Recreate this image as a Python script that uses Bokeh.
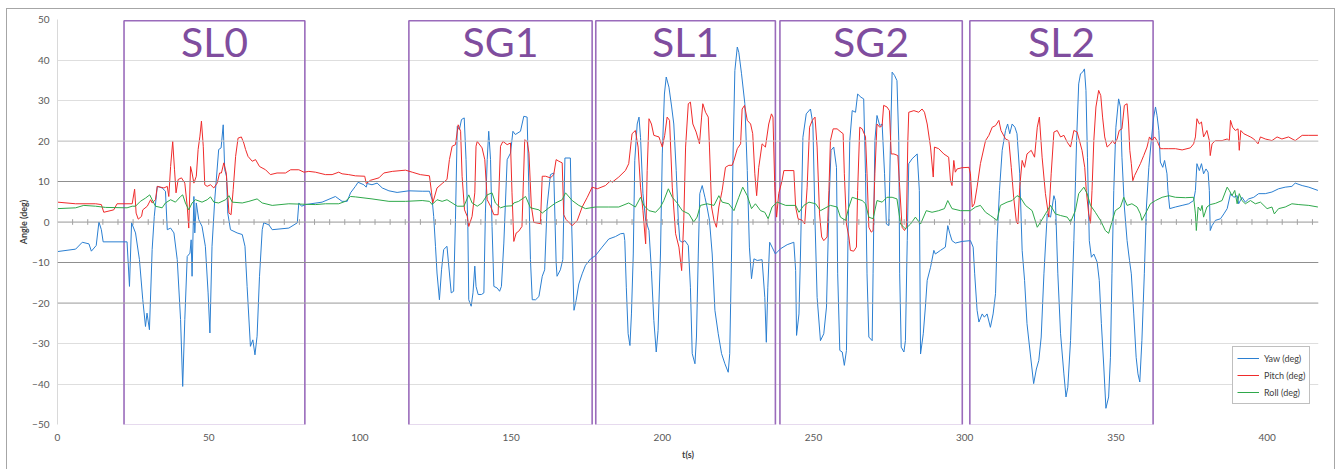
from bokeh.plotting import figure
from bokeh.models import (Range1d, FixedTicker, Span, Legend, LegendItem, ColumnDataSource)
from bokeh.core.properties import value
from bokeh.embed import file_html
from bokeh.resources import INLINE
import numpy as np

# ---------------- data ----------------
YAW = [(0,-7.3),(6,-6.7),(8.2,-5.0),(10.4,-5.4),(11.2,-7.2),(12.8,-5.8),(13.7,0),(14.5,-1.9),(15.1,-4.9),(23.0,-4.9),
(23.8,-15.9),(24.5,-0.2),(25.8,-2.7),(27.1,-9.3),(28.2,-19.2),(29.1,-25.8),(29.6,-22.5),(30.4,-26.6),(31.3,-6.8),(32,1.4),
(33,8.8),(34.6,8.4),(35.7,7.6),(36.3,-1.9),(37.4,-1.5),(38.5,-2.7),(39.6,-9.3),(40.7,-24.1),(41.4,-40.6),(42.1,-24.1),
(42.9,-8.5),(43.8,-7.7),(44.2,-4.4),(44.5,-13.4),(45.1,6.3),(45.4,-2.7),(45.9,4.7),(46.7,0.6),(47.8,-1.1),(48.9,-6.0),
(49.8,-17.5),(50.4,-27.4),(51.1,-6.0),(52.0,5.5),(53.3,17.9),(54.1,18.3),(54.8,24.0),(55.3,12.9),(55.9,11.3),(56.3,2.2),
(57.2,-1.9),(59.4,-2.7),(61.1,-3.1),(62,-6.0),(62.7,-15.9),(63.8,-30.7),(64.6,-29.1),(65.3,-32.8),(66,-28.2),(66.8,-13.4),
(67.7,-1.9),(68.2,-0.2),(69.9,-0.7),(71,-1.9),(76.5,-1.5),(79.3,-0.2),(79.8,4.7),(80.7,3.9),(82,4.3),(87.5,4.9),
(91.9,6.3),(94.1,5.1),(95.8,5.1),(96.9,7.2),(98.5,8.8),(99.4,9.8),(101.3,9.2),(102.1,8.6),(102.4,9.5),(104,9.2),
(105.7,9.6),(107.4,8.4),(109.6,7.7),(112.3,7.3),(116.2,7.7),(120.6,7.6),(123,7.6),(123.9,5.5),(124.4,1.4),(125,-6.0),
(125.5,-12.6),(126.3,-19.2),(127,-11.8),(127.7,-6.8),(128.8,-6.0),(129.6,-12.6),(130.2,-17.5),(131,-17.1),(131.6,0.6),(132.2,23.6),
(132.9,22.8),(133.6,25.3),(134.5,25.7),(135.1,15.4),(135.7,-1.1),(136,-19.2),(136.8,-20.8),(137.4,-17.5),(138,-10.9),(138.4,-15.9),
(139.1,-17.9),(140.2,-17.9),(141,-17.5),(141.5,2.2),(142.1,15.4),(142.6,22.4),(143.2,15.4),(143.7,-1.1),(144.3,-15.9),(145.4,-16.3),
(146.2,-17.1),(146.8,-15.9),(147.6,-5.2),(148.7,15.4),(149.8,17.0),(150.6,22.4),(151.4,21.6),(153.1,22.4),(154.2,26.1),(155.3,25.9),
(155.9,7.2),(156.4,-9.3),(157,-19.2),(158.1,-19.2),(159.2,-18.4),(160.3,-13.4),(161.1,-11.8),(161.9,3.9),(163,11.7),(164.1,12.1),
(164.9,-10.1),(165.2,-13.4),(166.3,-11.8),(167.1,-9.3),(167.8,15.8),(169.6,15.8),(170,0.4),(170.8,-21.8),(171.5,-19.4),(172.4,-15.3),
(173.5,-12.8),(174.6,-10.7),(176.3,-9.1),(177.9,-8.3),(180.1,-6.2),(182.3,-4.2),(184.5,-3.6),(186.2,-2.9),(187.3,-2.8),(187.6,-4.6),
(188.1,-16.1),(188.7,-27.6),(189.3,-30.5),(189.8,-22.7),(190.4,-7.9),(190.9,15.2),(191.7,24.2),(192.3,25.9),(192.8,20.9),(193.6,7.0),
(194.5,0.4),(195.6,-2.1),(196.4,-12.0),(197.2,-24.3),(198,-32.1),(198.6,-26.8),(199.4,-7.9),(200,16.8),(200.7,31.6),(201.3,35.8),
(202.2,33.3),(203.1,28.4),(203.8,24.2),(204.6,12.7),(205.3,0.4),(205.8,-4.6),(206.6,-5.0),(207.5,-4.6),(208.6,-5.8),(209.3,-16.1),
(209.9,-32.5),(210.8,-35.0),(211.3,-28.4),(211.9,-7.9),(212.4,7.0),(213.2,9.0),(214.1,6.1),(214.8,3.7),(215.6,0.4),(216.5,-7.9),
(217.4,-21.8),(218.5,-27.6),(219.6,-32.5),(220.7,-35.0),(221.8,-37.1),(222.3,-32.5),(222.9,-7.9),(223.4,16.8),(224,37.4),(224.8,43.2),
(225.3,41.9),(226.2,36.6),(227.3,29.2),(228.1,12.7),(228.8,-6.2),(229.5,-14.0),(230.3,-9.1),(231.4,-9.5),(233,-9.3),(233.9,-18.6),
(234.4,-29.7),(234.9,-16.1),(235.5,-5.0),(236.3,-6.2),(237.4,-7.9),(239.1,-6.6),(241.3,-5.6),(243.5,-5.0),(244.1,-12.0),(244.4,-28.0),
(245.2,-22.7),(245.7,-7.9),(246.5,20.9),(247.6,26.7),(249,27.9),(249.8,24.2),(250.5,0.4),(251.2,-18.6),(252.3,-29.3),(253.4,-27.6),
(254.3,-21.0),(255.1,3.7),(255.8,17.7),(256.7,18.5),(257.6,13.5),(258,-12.8),(258.7,-31.7),(259.5,-32.1),(260.2,-35.4),(260.9,-31.7),
(261.4,-4.6),(262,20.1),(262.8,27.5),(263.9,27.1),(264.6,31.6),(265.7,30.8),(266.6,30.4),(267.2,11.9),(267.7,-12.8),(268.3,-28.4),
(269.4,-29.3),(269.7,-12.8),(270.3,20.1),(271,26.3),(271.9,23.8),(272.7,24.2),(273.5,11.9),(274.1,-0.5),(274.9,-0.9),(275.4,17.7),
(276,37.0),(276.8,36.2),(277.6,34.9),(278.2,20.1),(278.5,-12.8),(279,-30.9),(279.9,-32.1),(280.4,-29.3),(281,-4.6),(281.5,14.4),
(282.6,15.6),(284.3,16.8),(285,7.8),(285.4,-32.6),(286.3,-27.6),(287,-21.0),(287.6,-14.4),(288.7,-11.2),(289.8,-7.0),(290.3,-7.9),
(292,-7.0),(293.6,-6.2),(294.4,-0.9),(295.1,-2.9),(295.8,-4.6),(296.9,-5.2),(299.1,-4.8),(301.9,-4.6),(302.8,-6.2),(303.3,-12.8),
(304.1,-21.8),(304.7,-24.7),(305.8,-22.7),(306.5,-23.5),(307.4,-22.7),(308.5,-26.0),(309.4,-22.7),(310.2,-17.7),(310.7,-4.6),(311.5,7.8),
(312.4,17.7),(313.5,22.6),(314.2,24.2),(314.9,21.8),(315.7,24.2),(316.6,23.4),(317.3,21.8),(318.2,11.9),(319,-7.0),(319.8,-14.4),
(320.6,-25.1),(321.7,-32.6),(322.8,-39.9),(323.7,-36.3),(324.5,-34.2),(325.3,-28.4),(326.2,-12.8),(327.3,2.0),(328.4,1.2),(329.5,6.5),
(330,5.3),(330.8,-12.8),(331.7,-27.6),(332.8,-37.5),(333.5,-43.2),(334.1,-40.8),(335,-29.3),(336.1,-4.6),(337,20.1),(337.7,34.1),
(338.3,36.6),(339,37.0),(339.6,37.8),(340.1,32.5),(340.6,16.0),(341.2,-4.6),(341.9,-8.7),(342.7,-7.9),(343.8,-9.9),(344.5,-14.4),
(345.2,-25.1),(346,-35.8),(346.7,-46.0),(347.6,-43.2),(348.2,-33.4),(348.7,-12.8),(349.3,7.8),(350,23.4),(350.9,30.4),(351.5,28.4),
(352,16.0),(352.8,3.7),(353.7,-4.6),(354.5,-9.5),(355.1,-12.8),(355.9,-22.7),(356.7,-33.4),(357.3,-37.5),(357.9,-39.5),(358.6,-29.3),
(359.4,-12.8),(360.1,3.7),(360.9,13.5),(361.7,20.1),(362.5,25.9),(363.1,28.4),(363.6,26.3),(364.2,22.6),(364.7,14.8),(365.5,13.5),
(366.1,15.2),(366.9,11.9),(367.2,7.8),(367.8,3.3),(369.7,3.7),(371.9,4.1),(374.1,4.5),(375.7,5.3),(376.3,7.8),(376.8,14.4),
(377.6,12.7),(378.3,14.4),(379,11.9),(379.8,13.1),(380.5,12.3),(380.9,7.8),(381.2,-2.1),(381.8,-0.9),(382.9,0.4),(384.6,0.8),
(385.7,2.0),(386.8,3.3),(387.9,7.0),(389,6.1),(390.1,6.5),(390.6,4.5),(391.7,6.1),(392.8,4.9),(393.9,5.7),(395.6,6.1),
(397.2,7.0),(399.4,7.0),(401.6,7.4),(403.8,8.2),(406,8.6),(408.2,8.8),(409.3,9.6),(411.6,9.0),(413.8,8.6),(416.8,7.8)]

PITCH = [(0,4.9),(6,4.5),(12.6,4.5),(14.5,4.3),(15.3,2.4),(18.6,3.0),(19.7,4.5),(24.7,4.5),(25.5,8.1),(26,2.2),
(26.7,0.7),(27.8,1.4),(28.2,3.0),(29.7,3.9),(30.8,5.5),(31.3,4.7),(32.4,5.5),(33,8.8),(35.2,8.4),(36.3,8.8),
(36.8,6.3),(37.4,13.7),(38.1,19.9),(38.7,12.9),(39.2,7.2),(39.9,10.5),(41,10.9),(42.1,9.6),(42.9,3.9),(43.4,-1.5),
(44,13.7),(44.5,12.1),(45.1,9.6),(45.9,11.3),(46.5,17.9),(47.1,21.2),(47.6,24.9),(48.2,18.7),(48.7,9.2),(49.5,8.8),
(50.6,9.2),(51.7,8.4),(52.8,9.6),(53.6,12.1),(54.2,12.1),(55,14.6),(55.8,12.1),(56.7,2.2),(57.4,1.8),(58.1,8.0),
(58.9,16.2),(59.7,20.7),(60.8,21.0),(61.6,19.5),(62.2,17.9),(63,16.2),(64.4,15.0),(65.5,15.4),(66.8,13.7),(68.8,12.9),
(70.4,11.7),(72.6,12.1),(75.4,12.1),(77.1,12.9),(79.8,12.9),(81.5,12.3),(83.1,12.5),(85.3,12.3),(88.6,11.7),(90.8,11.7),
(93,12.3),(94.1,11.9),(96.3,11.7),(98.5,11.4),(101.6,11.3),(102.1,9.5),(103.5,10.3),(106.3,10.9),(107.9,12.1),(110.7,12.5),
(115.1,12.8),(117.3,12.3),(120,11.7),(123,11.4),(123.7,7.2),(124.1,4.7),(125.5,8.4),(127.2,9.5),(128.8,10.5),(129.6,15.4),
(130.5,18.7),(131.6,19.1),(132.5,24.0),(133.3,22.4),(133.8,11.3),(134.6,3.0),(135.5,1.4),(136,-1.1),(137.1,1.4),(138,7.2),
(138.4,18.7),(138.8,19.9),(140.4,18.3),(141.3,15.4),(142.1,5.5),(143.2,3.9),(144.3,1.8),(145.7,1.8),(146.5,18.7),(147.3,19.9),
(148.7,19.1),(149.8,19.5),(150.3,7.2),(150.9,-4.8),(151.7,-2.7),(152.5,-2.3),(153.6,-1.1),(154.5,20.3),(155.3,19.9),(155.9,17.0),
(156.7,3.9),(157.5,-0.1),(159.7,-0.4),(160.3,11.3),(161.4,11.3),(163,10.9),(164.1,11.7),(164.9,15.4),(165.8,15.0),(166.9,14.6),
(167.4,1.8),(168.2,0.6),(170.2,-0.9),(171.9,0.4),(173.5,3.7),(175.2,6.1),(176.8,8.6),(178.5,8.2),(181.2,9.0),(182.9,10.2),
(183.4,9.8),(185.6,11.1),(187.8,12.7),(188.9,14.4),(190,21.8),(191.1,22.6),(192,18.5),(192.8,8.6),(193.6,2.8),(194.5,-5.4),
(195,12.7),(195.6,25.5),(196.4,24.2),(197.2,21.4),(198.9,21.0),(200,18.5),(200.8,21.4),(201.6,25.9),(202.4,25.1),(203.3,8.6),
(204.4,-2.9),(205.5,-6.2),(206.4,-12.0),(207.1,0.4),(207.7,18.5),(208.6,29.2),(209.3,29.6),(210.1,24.2),(211.2,22.2),(212.3,19.3),
(213,25.9),(213.4,29.2),(214.3,27.1),(215.2,25.9),(215.6,18.5),(216.3,3.7),(217.1,0.4),(217.9,-1.3),(218.7,3.7),(219.8,7.8),
(220.9,13.5),(222,14.0),(223.1,14.0),(223.7,15.2),(224.8,18.1),(225.9,19.3),(226.4,27.9),(227.2,28.8),(228.1,25.1),(229.2,24.2),
(229.9,21.8),(230.6,11.9),(231.2,6.5),(231.9,13.5),(233,19.3),(234.1,18.5),(235.2,24.2),(236.1,26.7),(236.6,25.9),(237.2,8.6),
(237.8,1.2),(238.5,7.0),(239.6,10.2),(240.2,12.7),(241.9,12.7),(243.5,12.7),(244.1,3.7),(244.9,0.8),(246.3,0.4),(247.1,-0.5),
(247.9,8.6),(248.7,23.4),(249.6,25.1),(250.5,25.9),(251.2,18.5),(252,2.0),(252.7,-3.7),(253.4,-4.6),(254.5,-3.7),(255.1,7.8),
(255.6,20.1),(256.5,23.0),(257.8,23.0),(259.1,22.2),(259.8,21.8),(260.2,11.9),(260.9,-0.5),(261.7,-3.7),(262.2,-7.0),(263.3,-7.2),
(264.2,-6.2),(264.6,7.8),(265.3,23.4),(266.1,23.0),(267.2,21.0),(267.7,11.9),(268.3,-1.3),(269.1,-2.5),(269.7,-2.1),(270.3,11.9),
(271,24.2),(271.9,23.4),(272.7,23.8),(273.2,28.8),(274.3,28.4),(275.1,27.5),(275.7,16.8),(276.6,16.8),(277.9,16.4),(278.5,8.6),
(279.3,-1.3),(280.1,-2.1),(280.7,-1.3),(281.2,20.1),(281.5,27.1),(283.2,27.5),(284.8,27.1),(285.9,27.9),(286.7,27.1),(287.6,24.2),
(288.7,18.5),(289.6,11.1),(290,18.5),(291.4,18.1),(293.1,16.8),(294.7,16.0),(295.3,10.2),(295.8,9.0),(296.4,15.2),(296.9,12.3),
(297.5,13.1),(299.1,13.4),(301.4,13.5),(301.9,11.9),(302.5,3.7),(303.2,4.5),(304.1,8.6),(305.2,14.4),(306.9,20.1),(308,21.4),
(309.1,23.4),(310.2,23.8),(311.3,25.1),(312,22.6),(313.5,20.5),(314.6,20.1),(315.4,13.5),(316.2,6.1),(317.1,0),(317.6,-0.5),
(318.2,8.6),(319,15.2),(319.8,13.5),(320.6,16.8),(322,17.7),(323.1,16.0),(324,23.4),(324.7,25.9),(325.6,16.0),(326.7,7.0),
(327.8,1.2),(328.6,11.9),(329.5,22.2),(330.6,22.6),(331.7,21.0),(332.8,21.4),(333.9,19.7),(335,18.5),(336.1,22.6),(337.2,22.2),
(338.8,17.7),(339.7,13.5),(340.2,7.8),(341,2.0),(341.6,-0.3),(342.1,7.8),(342.7,20.1),(343.4,28.4),(344.3,32.5),(345,31.2),
(345.6,25.9),(346.3,21.0),(347.1,18.5),(348.2,19.3),(348.9,20.1),(349.6,19.3),(350.4,20.5),(351.1,22.6),(352,23.0),(352.8,28.8),
(353.7,29.2),(354.2,24.2),(354.6,17.7),(355.1,14.4),(355.6,10.2),(356.2,11.5),(357,12.7),(358.1,14.4),(359.2,16.4),(360.3,18.5),
(361.1,21.0),(361.9,20.1),(362.8,21.0),(363.6,20.1),(364.7,18.1),(365.8,18.1),(367.5,18.1),(369.7,18.1),(371.9,17.8),(374.6,18.3),
(375.7,19.3),(376.3,21.0),(376.8,25.5),(377.6,24.2),(378.3,24.7),(379,21.0),(380.1,22.6),(380.9,20.1),(381.2,16.4),(381.8,19.3),
(382.9,20.1),(385.1,20.1),(386.8,20.5),(387.5,20.1),(387.9,25.1),(388.6,23.4),(389.5,22.6),(390.4,23.0),(390.8,17.7),(391.3,22.6),
(392.3,21.8),(393.4,21.4),(394.5,21.0),(395.6,20.5),(397,19.3),(397.8,21.0),(399.4,20.5),(401.6,20.1),(403.3,21.0),(404.9,20.5),
(407.1,21.0),(409.3,20.1),(411.6,21.4),(413.8,21.4),(416.8,21.4)]

ROLL = [(0,3.3),(6,3.5),(8.7,4.1),(12.6,3.9),(15.9,3.6),(23,3.5),(24.7,3.9),(25.8,3.9),(27.4,5.1),(29.1,5.9),
(30.5,6.7),(31.3,5.5),(32.4,3.9),(34.6,3.5),(35.7,4.7),(37.4,5.5),(39,4.9),(40.7,6.3),(41.4,6.7),(42.3,4.7),
(43.4,3.0),(44.5,4.7),(45.6,5.5),(47.8,4.9),(49.5,5.5),(50.6,6.2),(51.7,4.9),(53.3,4.7),(55.6,5.5),(56.7,6.5),
(57.8,4.9),(61.1,4.7),(63.3,5.1),(66,5.7),(67.7,4.7),(71,4.1),(76.5,4.5),(80.9,4.4),(85.3,4.3),(88.6,4.5),
(93,4.5),(95.2,5.1),(96.9,6.3),(98.5,6.2),(104,5.7),(109.6,5.1),(115.1,5.1),(120.6,5.3),(123,5.1),(123.9,4.3),
(125.5,5.5),(127.2,5.1),(128.8,5.5),(130.5,4.7),(132.2,3.9),(134.4,3.9),(136,6.7),(137.1,4.7),(138.8,3.9),(140.4,4.7),
(142.1,6.7),(143.7,7.2),(144.8,4.7),(146.5,3.5),(148.1,3.9),(150.3,4.0),(150.9,4.7),(152.5,5.1),(154.8,6.3),(156.4,3.5),
(159.2,3.0),(160.3,2.2),(162.5,3.5),(164.7,4.7),(166.9,5.5),(168,7.2),(170.2,5.3),(172.4,4.1),(174.6,3.3),(177.9,3.7),
(182.3,3.7),(185.6,3.7),(188.9,4.7),(191.1,3.7),(192.8,6.1),(193.9,4.1),(195.6,2.8),(197.8,2.4),(199.4,3.7),(200.5,5.3),
(202,8.2),(203.3,6.1),(204.9,4.7),(206.6,2.8),(208.8,2.0),(210.4,0),(211.5,1.2),(212.6,4.1),(214.8,4.5),(217.1,4.1),
(218.7,6.5),(219.8,4.9),(222,4.5),(223.7,2.8),(225.3,6.1),(226.6,8.6),(228.1,6.5),(229.5,3.3),(230.8,4.5),(232.5,2.8),
(233.9,2.4),(235,0.8),(236.3,3.7),(238,4.9),(240.8,4.1),(244.1,4.1),(245.2,2.4),(246.8,4.1),(248.5,4.9),(250.7,4.5),
(252.3,2.8),(254.5,3.7),(255.6,4.1),(257.8,3.7),(258.9,1.2),(260.6,0.4),(261.7,3.7),(262.8,6.1),(264.4,5.7),(266.1,5.3),
(267.2,4.5),(268.3,1.2),(269.7,0.8),(271,5.3),(272.7,4.9),(274.3,6.1),(276,6.1),(277.6,5.7),(278.8,-0.5),(280.4,-1.7),
(282.1,-0.5),(283.7,1.2),(285.4,-0.5),(287.3,2.8),(289.2,2.4),(291.4,2.8),(293.3,3.3),(294.4,5.3),(295.8,3.3),(298.6,2.8),
(301.9,2.8),(303.6,3.7),(305.2,4.1),(306.9,2.4),(308.5,1.6),(310.7,0.4),(311.8,4.1),(314,4.9),(315.7,5.3),(317.3,6.5),
(318.4,6.1),(320.1,4.1),(322.3,2.8),(324,-1.3),(325.1,0),(326.7,2.0),(328.4,4.1),(330,2.0),(331.7,1.6),(333.9,1.2),
(335,0),(336.6,2.8),(337.7,7.0),(339.4,8.6),(340.5,7.0),(341.6,4.1),(343.2,2.4),(344.9,0.4),(346.5,-2.1),(347.6,-2.8),
(348.5,-0.5),(349.8,2.8),(351.5,3.7),(352.6,6.1),(353.7,4.1),(355.3,4.5),(357,3.7),(358.1,2.0),(358.6,0.4),(360,2.4),
(361.4,4.5),(363.1,5.3),(365.3,6.1),(367.5,6.5),(369.7,6.1),(373,6.0),(375.7,6.1),(376.3,2.0),(376.6,-2.1),(377.2,3.7),
(378,2.8),(378.5,4.1),(379,1.2),(380.1,3.7),(381.2,4.3),(382.9,4.6),(385.1,5.3),(386.8,8.6),(387.5,7.8),(388.4,6.5),
(389.3,7.8),(390.1,4.5),(390.8,7.0),(391.7,5.3),(392.8,4.5),(394.5,5.3),(396.1,4.5),(397.8,4.9),(400,3.3),(401.6,3.7),
(402.4,2.0),(403.8,3.3),(406,3.7),(408.2,4.5),(410.5,4.3),(413.8,4.1),(416.8,3.7)]

SERIES_NAMES = ["Yaw (deg)", "Pitch (deg)", "Roll (deg)"]
SERIES_COLORS = ["#2b7fd1", "#ef2b2b", "#2ea84a"]

BOX_LABELS = ["SL0", "SG1", "SL1", "SG2", "SL2"]
BOX_START = [22.0, 116.2, 178.0, 238.9, 301.7]
BOX_END = [81.8, 176.8, 237.4, 299.2, 362.3]

X_TICKS = [0, 50, 100, 150, 200, 250, 300, 350, 400]
Y_TICKS = [-50, -40, -30, -20, -10, 0, 10, 20, 30, 40, 50]

# ---------------- figure ----------------
FONT = "Lato"
W, H = 1329, 464
p = figure(width=W, height=H, output_backend="svg", toolbar_location=None,
           x_range=Range1d(0, 417), y_range=Range1d(-50, 50),
           min_border_left=50, min_border_right=18, min_border_top=10, min_border_bottom=49)
p.styles = {"border": "1px solid #a6a6a6", "margin-left": "6px", "margin-top": "8px"}
p.outline_line_color = None
p.background_fill_color = "white"
p.border_fill_color = "white"

# grid
p.xgrid.grid_line_color = None
p.ygrid.ticker = FixedTicker(ticks=Y_TICKS)
p.ygrid.grid_line_color = "#dedede"
p.ygrid.grid_line_width = 1
for yv, col in [(10, "#8f8f8f"), (-10, "#8f8f8f"), (20, "#c8c8c8"), (-20, "#a8a8a8")]:
    p.add_layout(Span(location=yv, dimension="width", line_color=col, line_width=1))

# horizontal axis line at y=0 with small tick marks every 5 s
p.add_layout(Span(location=0, dimension="width", line_color="#a6a6a6", line_width=1))
tick_x = np.arange(5, 417, 5)
p.segment(x0=tick_x, x1=tick_x, y0=-0.7, y1=0.7, line_color="#a0a0a0", line_width=1)

# axes
xa = p.xaxis[0]
xa.ticker = FixedTicker(ticks=X_TICKS)
xa.axis_line_color = None
xa.major_tick_line_color = None
xa.minor_tick_line_color = None
xa.major_tick_out = 0
xa.major_tick_in = 0
xa.major_label_standoff = 9
xa.major_label_text_font = FONT
xa.major_label_text_font_size = "10px"
xa.major_label_text_color = "#595959"
xa.axis_label = "t(s)"
xa.axis_label_text_font = FONT
xa.axis_label_text_font_size = "9px"
xa.axis_label_text_font_style = "bold"
xa.axis_label_text_color = "#404040"
xa.axis_label_standoff = 5

ya = p.yaxis[0]
ya.ticker = FixedTicker(ticks=Y_TICKS)
ya.axis_line_color = "#d9d9d9"
ya.major_tick_line_color = None
ya.minor_tick_line_color = None
ya.major_tick_out = 0
ya.major_tick_in = 0
ya.major_label_standoff = 8
ya.major_label_text_font = FONT
ya.major_label_text_font_size = "10px"
ya.major_label_text_color = "#595959"
ya.axis_label = "Angle (deg)"
ya.axis_label_text_font = FONT
ya.axis_label_text_font_size = "9px"
ya.axis_label_text_font_style = "bold"
ya.axis_label_text_color = "#404040"
ya.axis_label_standoff = 0

# boxes
box_src = ColumnDataSource(dict(left=BOX_START, right=BOX_END,
                                center=[(a + b) / 2 for a, b in zip(BOX_START, BOX_END)],
                                label=BOX_LABELS))
p.quad(left="left", right="right", bottom=-50.2, top=49.7, source=box_src,
       fill_color=None, line_color="#9a6bbb", line_width=1.6)
p.text(x="center", y=44.6, text="label", source=box_src,
       text_font=value(FONT), text_font_size="41px", text_color="#7f4d9e",
       text_align="center", text_baseline="middle")

# series
items = []
for name, col, data in zip(SERIES_NAMES, SERIES_COLORS, [YAW, PITCH, ROLL]):
    t = [d[0] for d in data]
    v = [d[1] for d in data]
    r = p.line(t, v, line_color=col, line_width=1)
    items.append(LegendItem(label=name, renderers=[r]))

legend = Legend(items=items, location=(1175, 20), orientation="vertical",
                label_text_font=FONT, label_text_font_size="9px", label_text_color="#404040",
                glyph_width=22, glyph_height=14, label_height=14, spacing=3,
                padding=4, margin=0, border_line_color="#808080", border_line_width=1,
                background_fill_color="white", background_fill_alpha=1.0)
p.add_layout(legend, "center")

open("out.html", "w").write(file_html(p, INLINE))
